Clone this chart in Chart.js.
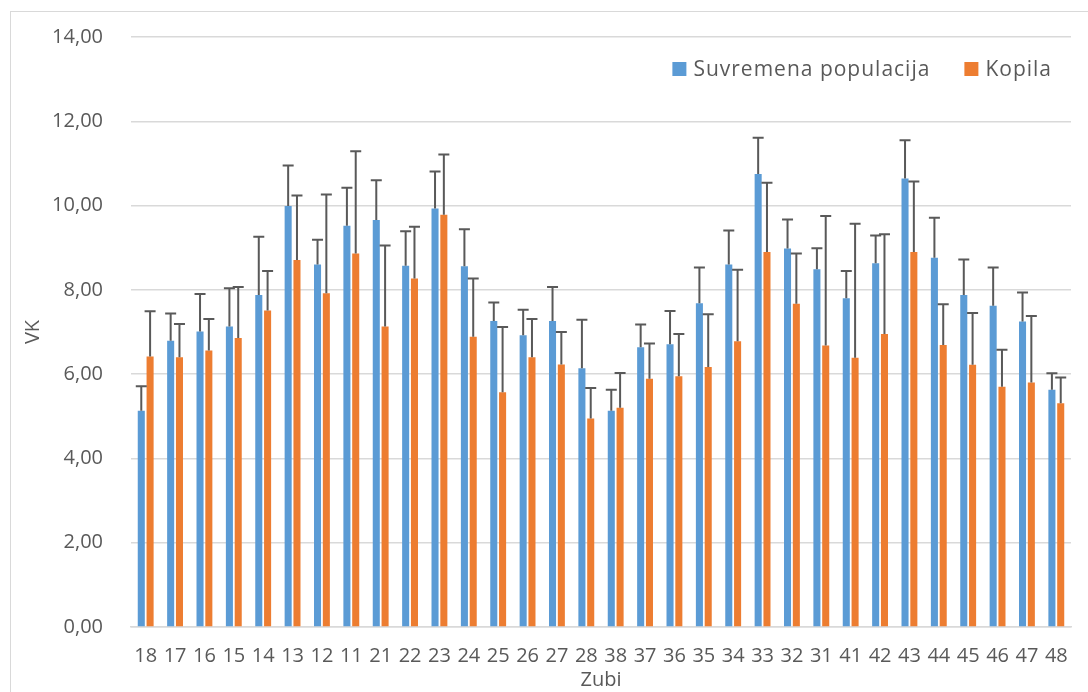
<!DOCTYPE html>
<html>
<head>
<meta charset="utf-8">
<script src="https://cdn.jsdelivr.net/npm/chart.js@4.4.1/dist/chart.umd.min.js"></script>
<style>
  html, body { margin: 0; padding: 0; background: #fff; overflow: hidden; }
  #frame { position: absolute; left: 10px; top: 11px; width: 1100px; height: 700px; border: 1px solid #d9d9d9; }
  #wrap { position: absolute; left: 0; top: 0; width: 1088px; height: 692px; }
</style>
</head>
<body>
<div id="frame"></div>
<div id="wrap"><canvas id="chart"></canvas></div>
<script>
// Teeth (x axis categories)
const teeth = ['18', '17', '16', '15', '14', '13', '12', '11', '21', '22', '23', '24', '25', '26', '27', '28',
               '38', '37', '36', '35', '34', '33', '32', '31', '41', '42', '43', '44', '45', '46', '47', '48'];

// Suvremena populacija - mean and upper error
const modernValues = [5.13, 6.79, 7.01, 7.13, 7.88, 9.99, 8.60, 9.52, 9.66, 8.57, 9.93, 8.56, 7.26, 6.92, 7.26, 6.14,
                      5.13, 6.64, 6.71, 7.68, 8.60, 10.75, 8.98, 8.49, 7.80, 8.63, 10.64, 8.76, 7.88, 7.62, 7.25, 5.63];
const modernErrors = [0.58, 0.65, 0.89, 0.91, 1.38, 0.96, 0.59, 0.90, 0.94, 0.82, 0.88, 0.88, 0.44, 0.61, 0.81, 1.15,
                      0.50, 0.54, 0.79, 0.85, 0.81, 0.86, 0.69, 0.50, 0.65, 0.66, 0.91, 0.95, 0.84, 0.91, 0.69, 0.39];

// Kopila - mean and upper error
const kopilaValues = [6.42, 6.40, 6.56, 6.86, 7.51, 8.71, 7.92, 8.86, 7.13, 8.27, 9.78, 6.89, 5.57, 6.40, 6.23, 4.95,
                      5.20, 5.89, 5.95, 6.17, 6.78, 8.90, 7.67, 6.68, 6.39, 6.95, 8.90, 6.69, 6.22, 5.70, 5.80, 5.31];
const kopilaErrors = [1.07, 0.79, 0.75, 1.21, 0.94, 1.53, 2.34, 2.43, 1.92, 1.23, 1.43, 1.38, 1.55, 0.91, 0.77, 0.72,
                      0.83, 0.84, 1.00, 1.25, 1.70, 1.64, 1.19, 3.07, 3.18, 2.37, 1.67, 0.97, 1.23, 0.88, 1.58, 0.61];

const yTicks = [0, 2, 4, 6, 8, 10, 12, 14];

const FONT = "'Open Sans', 'DejaVu Sans', sans-serif";
const TEXT = '#595959';

/**
 * Draw the upper error bars over each bar
 */
const errorBarPlugin = {
    id: 'errorBars',
    afterDatasetsDraw(chart) {
        const ctx = chart.ctx;
        const yScale = chart.scales.y;
        ctx.save();
        ctx.strokeStyle = '#595959';
        ctx.lineWidth = 2;
        chart.data.datasets.forEach((ds, i) => {
            const meta = chart.getDatasetMeta(i);
            meta.data.forEach((bar, j) => {
                const top = yScale.getPixelForValue(ds.data[j] + ds.errors[j]);
                ctx.beginPath();
                ctx.moveTo(bar.x, bar.y);
                ctx.lineTo(bar.x, top);
                ctx.moveTo(bar.x - 5.5, top);
                ctx.lineTo(bar.x + 5.5, top);
                ctx.stroke();
            });
        });
        ctx.restore();
    }
};

/**
 * Legend sitting inside the plot, top right (like the Excel original)
 */
const insideLegendPlugin = {
    id: 'insideLegend',
    afterDraw(chart) {
        const ctx = chart.ctx;
        const area = chart.chartArea;
        const box = 14, gap = 7, spacing = 34;
        const yMid = area.top + 32;
        ctx.save();
        ctx.font = `21px ${FONT}`;
        ctx.letterSpacing = '1px';
        ctx.textBaseline = 'middle';
        ctx.textAlign = 'left';
        const items = chart.data.datasets.map(ds => ({
            label: ds.label,
            color: ds.backgroundColor,
            width: box + gap + ctx.measureText(ds.label).width
        }));
        const total = items.reduce((s, it) => s + it.width, 0) + spacing * (items.length - 1);
        let x = area.right - 19 - total;
        items.forEach(it => {
            ctx.fillStyle = it.color;
            ctx.fillRect(x, yMid - box / 2, box, box);
            ctx.fillStyle = TEXT;
            ctx.fillText(it.label, x + box + gap, yMid + 1);
            x += it.width + spacing;
        });
        ctx.restore();
    }
};

const ctx = document.getElementById('chart').getContext('2d');
new Chart(ctx, {
    type: 'bar',
    data: {
        labels: teeth,
        datasets: [
            {
                label: 'Suvremena populacija',
                data: modernValues,
                errors: modernErrors,
                backgroundColor: '#5b9bd5',
                categoryPercentage: 0.6,
                barPercentage: 0.8
            },
            {
                label: 'Kopila',
                data: kopilaValues,
                errors: kopilaErrors,
                backgroundColor: '#ed7d31',
                categoryPercentage: 0.6,
                barPercentage: 0.8
            }
        ]
    },
    options: {
        responsive: true,
        maintainAspectRatio: false,
        animation: false,
        layout: {
            padding: { left: 10, right: 17, top: 37, bottom: 0 }
        },
        plugins: {
            tooltip: { enabled: false },
            legend: { display: false }
        },
        scales: {
            x: {
                grid: { display: false },
                border: { color: '#d9d9d9', width: 1.5 },
                ticks: {
                    color: TEXT,
                    font: { family: FONT, size: 20 },
                    padding: 9,
                    maxRotation: 0,
                    autoSkip: false
                },
                title: {
                    display: true,
                    text: 'Zubi',
                    color: TEXT,
                    font: { family: FONT, size: 20 },
                    padding: { top: 0, bottom: 0 }
                },
                afterFit(scale) { scale.height = 65; }
            },
            y: {
                min: 0,
                max: 14,
                afterBuildTicks(scale) { scale.ticks = yTicks.map(v => ({ value: v })); },
                grid: { color: '#d9d9d9', lineWidth: 1.5, drawTicks: false },
                border: { display: false },
                ticks: {
                    color: TEXT,
                    font: { family: FONT, size: 20 },
                    padding: 28,
                    callback: v => v.toFixed(2).replace('.', ',')
                },
                title: {
                    display: true,
                    text: 'VK',
                    color: TEXT,
                    font: { family: FONT, size: 20 },
                    padding: { top: 11, bottom: 0 }
                },
                afterFit(scale) {
                    scale.width = 121;
                    scale.paddingTop = 0;
                    scale.paddingBottom = 0;
                }
            }
        }
    },
    plugins: [errorBarPlugin, insideLegendPlugin]
});
</script>
</body>
</html>
